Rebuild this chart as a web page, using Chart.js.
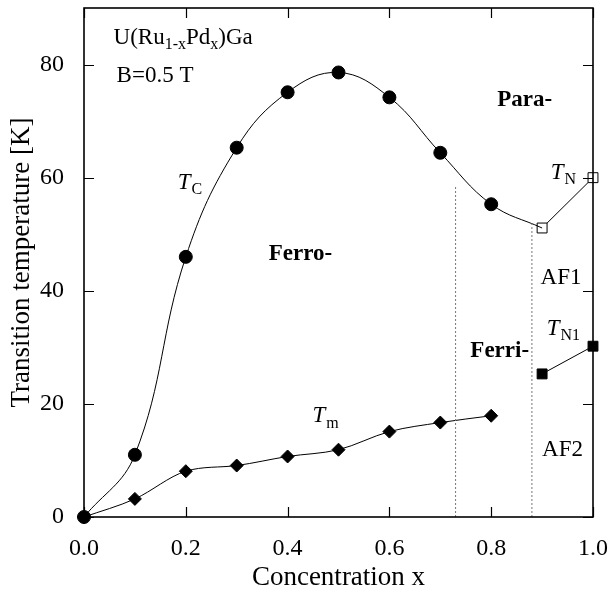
<!DOCTYPE html>
<html>
<head>
<meta charset="utf-8">
<script src="https://cdn.jsdelivr.net/npm/chart.js@4.4.1/dist/chart.umd.min.js"></script>
<style>
  html, body { margin: 0; padding: 0; background: #fff; }
</style>
</head>
<body>
<canvas id="phase" width="610" height="598"></canvas>
<script>
// Curie temperature T_C (filled circles)
const tcX = [0.0, 0.1, 0.2, 0.3, 0.4, 0.5, 0.6, 0.7, 0.8];
const tcValues = [0, 11, 46, 65.3, 75.1, 78.6, 74.2, 64.4, 55.3];
// Neel temperature T_N (open squares)
const tnX = [0.9, 1.0];
const tnValues = [51.1, 60];
// T_m (diamonds)
const tmX = [0.0, 0.1, 0.2, 0.3, 0.4, 0.5, 0.6, 0.7, 0.8];
const tmValues = [0, 3.2, 8.1, 9.1, 10.7, 11.9, 15.1, 16.7, 17.9];
// T_N1 (filled squares)
const tn1X = [0.9, 1.0];
const tn1Values = [25.3, 30.2];
// dotted phase boundaries: concentration and upper end
const boundaryX = [0.73, 0.88];
const boundaryTop = [58.5, 52];
// labelled ticks
const xTickLabels = [0, 0.2, 0.4, 0.6, 0.8, 1.0];
const yTickLabels = [0, 20, 40, 60, 80];

const FONT = "'Liberation Serif', 'Times New Roman', serif";

// text placed in data coordinates; runs: n normal, s subscript, i italic, b bold
const notes = [
  { x: 0.058, y: 84.7, runs: [['U(Ru', 'n'], ['1-x', 's'], ['Pd', 'n'], ['x', 's'], [')Ga', 'n']] },
  { x: 0.064, y: 77.9, runs: [['B=0.5 T', 'n']] },
  { x: 0.184, y: 59.1, runs: [['T', 'i'], ['C', 's']] },
  { x: 0.812, y: 73.8, runs: [['Para-', 'b']] },
  { x: 0.363, y: 46.5, runs: [['Ferro-', 'b']] },
  { x: 0.917, y: 60.9, runs: [['T', 'i'], ['N', 's']] },
  { x: 0.897, y: 42.2, runs: [['AF1', 'n']] },
  { x: 0.759, y: 29.4, runs: [['Ferri-', 'b']] },
  { x: 0.909, y: 33.3, runs: [['T', 'i'], ['N1', 's']] },
  { x: 0.900, y: 11.9, runs: [['AF2', 'n']] },
  { x: 0.449, y: 17.8, runs: [['T', 'i'], ['m', 's']] }
];

function fontFor(style) {
  if (style === 'b') return 'bold 23px ' + FONT;
  if (style === 'i') return 'italic 23px ' + FONT;
  if (style === 's') return '16px ' + FONT;
  return '23px ' + FONT;
}

function points(xs, ys) {
  return xs.map((x, i) => ({ x, y: ys[i] }));
}

// frame with inward ticks on all four sides
const frameTicks = {
  id: 'frameTicks',
  afterDatasetsDraw(chart) {
    const { ctx, chartArea: a, scales: { x, y } } = chart;
    ctx.save();
    ctx.strokeStyle = '#000';
    ctx.lineWidth = 1.2;
    ctx.beginPath();
    x.ticks.forEach(t => {
      const px = Math.round(x.getPixelForValue(t.value)) + 0.5;
      const len = t.label ? 10 : 6;
      ctx.moveTo(px, a.bottom); ctx.lineTo(px, a.bottom - len);
      ctx.moveTo(px, a.top); ctx.lineTo(px, a.top + len);
    });
    y.ticks.forEach(t => {
      const py = Math.round(y.getPixelForValue(t.value)) + 0.5;
      const len = t.label ? 10 : 6;
      ctx.moveTo(a.left, py); ctx.lineTo(a.left + len, py);
      ctx.moveTo(a.right, py); ctx.lineTo(a.right - len, py);
    });
    ctx.stroke();
    ctx.lineWidth = 1.6;
    ctx.strokeRect(a.left, a.top, a.width, a.height);
    ctx.restore();
  }
};

const notesPlugin = {
  id: 'notes',
  afterDraw(chart) {
    const { ctx, scales: { x, y } } = chart;
    ctx.save();
    ctx.fillStyle = '#000';
    ctx.textBaseline = 'middle';
    ctx.textAlign = 'left';
    notes.forEach(n => {
      let px = x.getPixelForValue(n.x);
      const py = y.getPixelForValue(n.y);
      n.runs.forEach(([text, style]) => {
        ctx.font = fontFor(style);
        ctx.fillText(text, px, style === 's' ? py + 7 : py);
        px += ctx.measureText(text).width + (style === 'i' ? 1 : 0);
      });
    });
    ctx.restore();
  }
};

const boundarySets = boundaryX.map((bx, i) => ({
  data: [{ x: bx, y: 0 }, { x: bx, y: boundaryTop[i] }],
  borderColor: '#777',
  borderWidth: 1,
  borderDash: [2, 2],
  pointRadius: 0,
  tension: 0
}));

new Chart(document.getElementById('phase'), {
  type: 'line',
  data: {
    datasets: [
      ...boundarySets,
      {
        // T_C curve runs on into the first T_N point
        data: points(tcX, tcValues).concat([{ x: tnX[0], y: tnValues[0] }]),
        borderColor: '#000',
        borderWidth: 1,
        backgroundColor: '#000',
        pointStyle: 'circle',
        pointRadius: ctx => (ctx.dataIndex < tcX.length ? 6.5 : 0),
        tension: 0.4,
        clip: false
      },
      {
        data: points(tnX, tnValues),
        borderColor: '#000',
        borderWidth: 1,
        backgroundColor: '#fff',
        pointStyle: 'rect',
        pointRadius: 7,
        pointBorderWidth: 1,
        tension: 0,
        clip: false
      },
      {
        data: points(tmX, tmValues),
        borderColor: '#000',
        borderWidth: 1,
        backgroundColor: '#000',
        pointStyle: 'rectRot',
        pointRadius: 6.5,
        cubicInterpolationMode: 'monotone',
        clip: false
      },
      {
        data: points(tn1X, tn1Values),
        borderColor: '#000',
        borderWidth: 1,
        backgroundColor: '#000',
        pointStyle: 'rect',
        pointRadius: 7,
        tension: 0,
        clip: false
      }
    ]
  },
  options: {
    responsive: false,
    animation: false,
    layout: { padding: { top: 5, right: 17, left: 0, bottom: 0 } },
    plugins: { legend: { display: false }, tooltip: { enabled: false } },
    scales: {
      x: {
        type: 'linear',
        min: 0,
        max: 1,
        grid: { display: false },
        border: { display: false },
        ticks: {
          stepSize: 0.1,
          autoSkip: false,
          maxRotation: 0,
          padding: 9,
          color: '#000',
          font: { family: FONT, size: 24 },
          callback: value => {
            const v = Math.round(value * 10) / 10;
            return xTickLabels.includes(v) ? v.toFixed(1) : null;
          }
        },
        title: {
          display: true,
          text: 'Concentration x',
          color: '#000',
          font: { family: FONT, size: 27 },
          padding: { top: 0, bottom: 4 }
        },
        afterFit: s => {
          s.height = 81;
          s.paddingLeft = 0;
          s.paddingRight = 0;
        }
      },
      y: {
        min: 0,
        max: 90,
        grid: { display: false },
        border: { display: false },
        ticks: {
          stepSize: 10,
          padding: 12,
          color: '#000',
          font: { family: FONT, size: 24 },
          callback: value => (yTickLabels.includes(value) ? String(value) : null)
        },
        title: {
          display: true,
          text: 'Transition temperature [K]',
          color: '#000',
          font: { family: FONT, size: 27 },
          padding: { top: 6, bottom: 0 }
        },
        afterFit: s => {
          s.width = 84;
          s.paddingTop = 0;
          s.paddingBottom = 0;
        }
      }
    }
  },
  plugins: [frameTicks, notesPlugin]
});
</script>
</body>
</html>
